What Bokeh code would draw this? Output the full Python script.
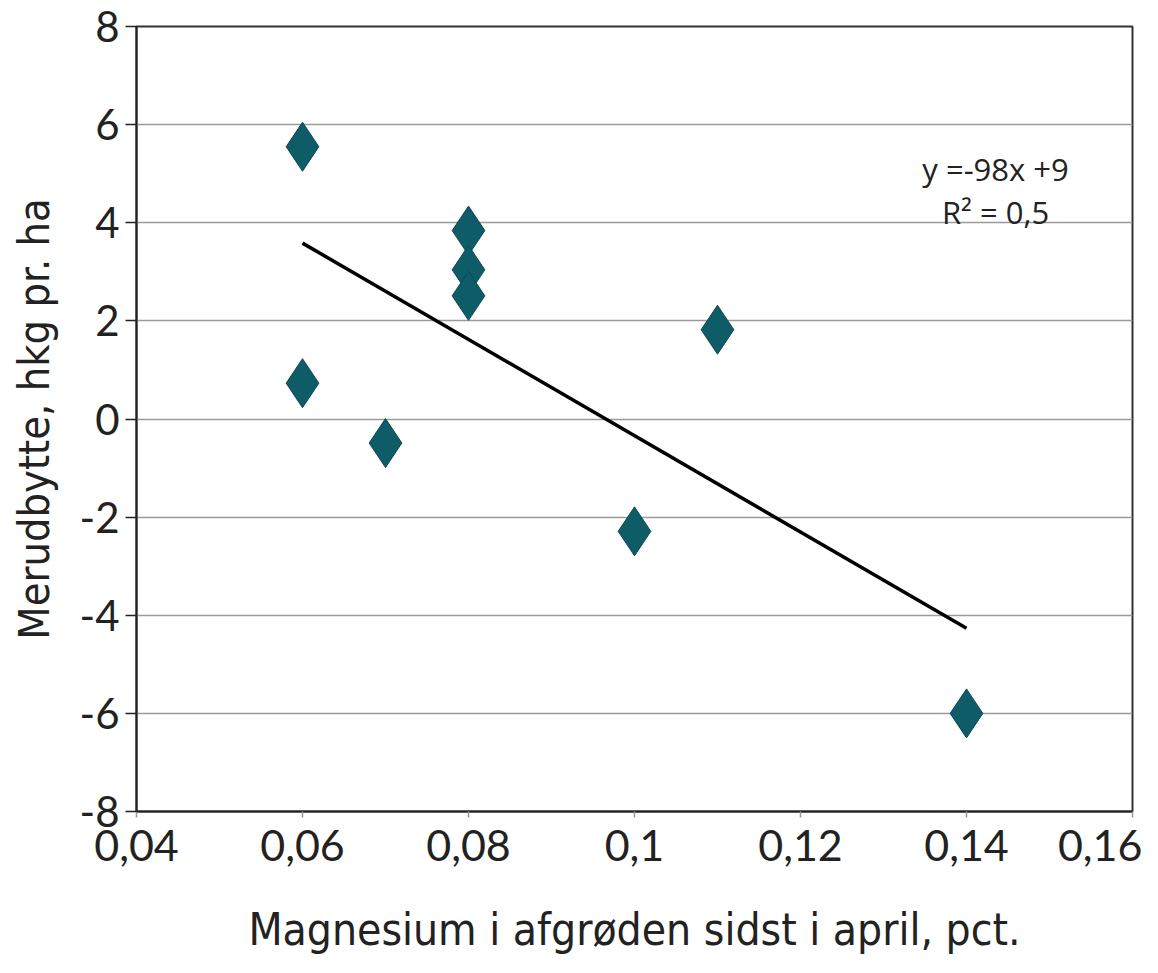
import numpy as np
from bokeh.plotting import figure
from bokeh.models import FixedTicker, Label, Range1d
from bokeh.embed import file_html
from bokeh.resources import INLINE

# ---- data ----
mg_pct = [0.06, 0.06, 0.07, 0.08, 0.08, 0.08, 0.10, 0.11, 0.14]
merudbytte = [5.55, 0.73, -0.49, 3.84, 3.04, 2.51, -2.29, 1.82, -6.0]
x_ticks = [0.04, 0.06, 0.08, 0.10, 0.12, 0.14, 0.16]
x_tick_labels = ["0,04", "0,06", "0,08", "0,1", "0,12", "0,14", "0,16"]
y_ticks = [-8, -6, -4, -2, 0, 2, 4, 6, 8]
y_tick_labels = ["-8", "-6", "-4", "-2", "0", "2", "4", "6", "8"]
eq_text = "y =-98x +9"
r2_text = "R\u00b2 = 0,5"
x_title = "Magnesium i afgrøden sidst i april, pct."
y_title = "Merudbytte, hkg pr. ha"

TICK_FONT = "Lato"
ANN_FONT = "Open Sans"
LABEL_FONT = "DejaVu Sans Condensed"
TEAL = "#0f5c69"

p = figure(width=1142, height=957, output_backend="svg", toolbar_location=None,
           x_range=Range1d(0.04, 0.16), y_range=Range1d(-8, 8),
           min_border_left=136, min_border_right=10, min_border_top=26,
           min_border_bottom=146, background_fill_color="white",
           border_fill_color="white")

p.outline_line_color = "#333333"
p.outline_line_width = 2

# grid
p.xgrid.grid_line_color = None
p.ygrid.grid_line_color = "#9a9a9a"
p.ygrid.grid_line_width = 1.5
p.ygrid.ticker = FixedTicker(ticks=y_ticks)

# x axis
p.xaxis.ticker = FixedTicker(ticks=x_ticks)
p.xaxis.major_label_overrides = dict(zip(x_ticks, x_tick_labels))
p.xaxis.axis_line_color = "#222222"
p.xaxis.axis_line_width = 2
p.xaxis.major_tick_line_color = "#999999"
p.xaxis.major_tick_line_width = 1.5
p.xaxis.major_tick_out = 6
p.xaxis.major_tick_in = 0
p.xaxis.minor_tick_line_color = None
p.xaxis.major_label_standoff = 12
p.xaxis.major_label_text_font = TICK_FONT
p.xaxis.major_label_text_font_size = "43px"
p.xaxis.major_label_text_color = "#222222"
p.xaxis.axis_label = x_title
p.xaxis.axis_label_text_font = LABEL_FONT
p.xaxis.axis_label_text_font_size = "44px"
p.xaxis.axis_label_text_font_style = "normal"
p.xaxis.axis_label_text_color = "#222222"
p.xaxis.axis_label_standoff = 40

# y axis
p.yaxis.ticker = FixedTicker(ticks=y_ticks)
p.yaxis.major_label_overrides = dict(zip(y_ticks, y_tick_labels))
p.yaxis.axis_line_color = "#222222"
p.yaxis.axis_line_width = 2
p.yaxis.major_tick_line_color = "#222222"
p.yaxis.major_tick_line_width = 1.5
p.yaxis.major_tick_out = 11
p.yaxis.major_tick_in = 0
p.yaxis.minor_tick_line_color = None
p.yaxis.major_label_standoff = 6
p.yaxis.major_label_text_font = TICK_FONT
p.yaxis.major_label_text_font_size = "42px"
p.yaxis.major_label_text_color = "#222222"
p.yaxis.axis_label = y_title
p.yaxis.axis_label_text_font = LABEL_FONT
p.yaxis.axis_label_text_font_size = "43px"
p.yaxis.axis_label_text_font_style = "normal"
p.yaxis.axis_label_text_color = "#222222"
p.yaxis.axis_label_standoff = 18

# trend line (least squares through the points)
slope, intercept = np.polyfit(mg_pct, merudbytte, 1)
x_fit = [min(mg_pct), max(mg_pct)]
y_fit = [slope * v + intercept for v in x_fit]
p.line(x_fit, y_fit, line_color="black", line_width=3.5)

# diamond markers
p.scatter(mg_pct, merudbytte, marker="diamond", size=49,
          fill_color=TEAL, line_color="#0a4853", line_width=1)

# equation annotation
p.add_layout(Label(x=0.1435, y=5.1, text=eq_text, text_align="center",
                   text_baseline="alphabetic", text_font=ANN_FONT,
                   text_font_size="31px", text_color="#222222"))
p.add_layout(Label(x=0.1435, y=4.22, text=r2_text, text_align="center",
                   text_baseline="alphabetic", text_font=ANN_FONT,
                   text_font_size="31px", text_color="#222222"))

open("out.html", "w").write(file_html(p, INLINE))
